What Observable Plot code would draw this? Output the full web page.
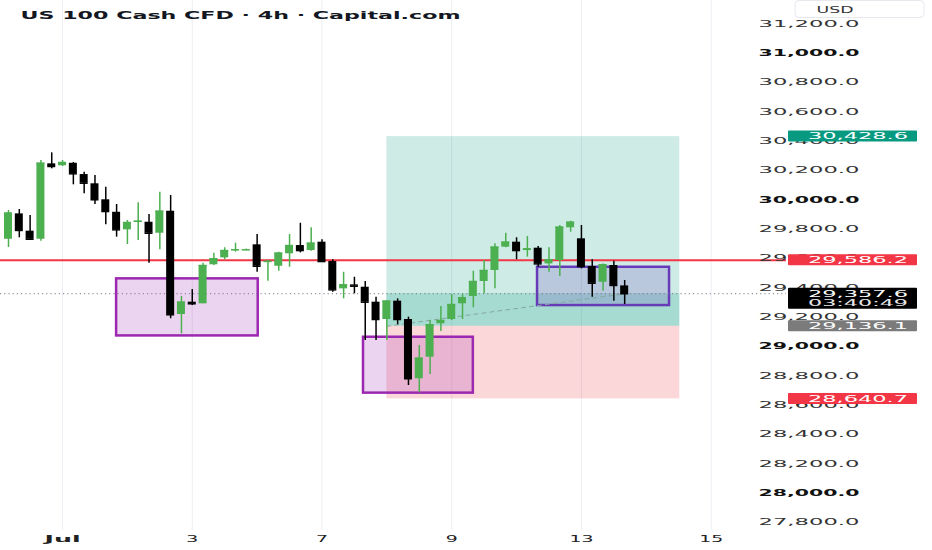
<!DOCTYPE html>
<html><head><meta charset="utf-8">
<script src="https://cdn.jsdelivr.net/npm/d3@7"></script>
<script src="https://cdn.jsdelivr.net/npm/@observablehq/plot@0.6"></script>
<style>
html,body{margin:0;padding:0;background:#fff;}
#chart{width:932px;height:550px;overflow:hidden;}
</style></head><body><div id="chart"></div>
<script>
// ---- data ----
const chartTitle = "US 100 Cash CFD · 4h · Capital.com";
const currency = "USD";
const opens  = [29729,29902,29784,29729,30243,30230,30247,30170,30107,29998,29913,29793,29843,29845,29770,29920,29216,29300,29289,29555,29602,29652,29655,29691,29573,29545,29630,29686,29652,29709,29577,29391,29418,29402,29300,29182,29307,29182,28778,28925,29153,29182,29289,29339,29441,29516,29675,29709,29652,29668,29561,29584,29807,29732,29543,29436,29550,29411];
const highs  = [29925,29932,29891,30266,30318,30266,30252,30186,30164,30084,29966,29857,29977,29898,30050,30027,29339,29386,29566,29634,29671,29702,29662,29761,29584,29641,29761,29838,29807,29725,29589,29504,29470,29441,29334,29311,29323,29198,29005,29175,29271,29352,29352,29511,29584,29698,29770,29739,29748,29680,29671,29823,29852,29823,29589,29561,29579,29448];
const lows   = [29673,29739,29720,29716,30209,30225,30100,30039,29966,29828,29743,29693,29720,29566,29657,29187,29084,29277,29289,29550,29589,29641,29650,29504,29443,29511,29538,29636,29648,29573,29368,29323,29357,29039,29039,29039,29146,28732,28682,28807,29100,29175,29182,29262,29357,29391,29671,29589,29607,29538,29504,29475,29777,29527,29334,29375,29307,29284];
const closes = [29907,29789,29729,30247,30225,30252,30175,30111,29998,29918,29793,29843,29852,29770,29920,29214,29300,29289,29550,29596,29652,29657,29657,29545,29578,29634,29686,29652,29702,29577,29384,29418,29409,29300,29182,29307,29182,28778,28918,29146,29175,29284,29330,29441,29516,29675,29709,29652,29663,29561,29589,29811,29845,29543,29429,29555,29414,29357.6];

const dayTickBars   = [5, 17, 29, 41, 53, 65];
const dayTickLabels = ["Jul", "3", "7", "9", "13", "15"];
const priceTicks = [31200,31000,30800,30600,30400,30200,30000,29800,29600,29400,29200,29000,28800,28600,28400,28200,28000,27800];

const resistanceLevel = 29586.2;
const lastPrice = 29357.6;
const lastBar = 57;
const countdown = "03:40:49";

// long position tool
const entryPrice = 29136.1, targetPrice = 30428.6, stopPrice = 28640.7;
const positionStartBar = 35, positionEndBar = 62.1;

// order-block rectangles
const boxStartBar = [10, 32.84, 48.94];
const boxEndBar   = [23.1, 43, 61.15];
const boxTop      = [29459, 29061, 29538];
const boxBottom   = [29070, 28680, 29277];
const boxColor    = ["#9c27b0", "#9c27b0", "#673ab7"];

// ---- tables built from the arrays ----
const candles = opens.map((o, i) => ({i, open: o, high: highs[i], low: lows[i], close: closes[i]}));
const isUp = d => d.close >= d.open;
const candleColor = d => isUp(d) ? "#4caf50" : "#000000";
const boxes = boxStartBar.map((s, k) => ({x1: s, x2: boxEndBar[k], y1: boxBottom[k], y2: boxTop[k], c: boxColor[k]}));
const zones = [
  {x1: positionStartBar, x2: positionEndBar, y1: entryPrice, y2: targetPrice, c: "#089981"},
  {x1: positionStartBar, x2: positionEndBar, y1: stopPrice, y2: entryPrice, c: "#f23645"},
  {x1: positionStartBar, x2: positionEndBar, y1: entryPrice, y2: lastPrice, c: "#089981"}
];
const pnlLine = [{x: positionStartBar, y: entryPrice}, {x: lastBar, y: lastPrice}];
const fmt = d3.format(",.1f");
const FONT = "DejaVu Sans, Verdana, sans-serif";

const plot = Plot.plot({
  width: 932, height: 550,
  marginLeft: 0, marginRight: 146, marginTop: 0, marginBottom: 20,
  x: {type: "linear", domain: [-0.74, 71.97], axis: null},
  y: {type: "linear", domain: [27743.6, 31356.5], axis: null},
  color: {type: "identity"},
  style: {fontFamily: FONT, background: "#fff", overflow: "visible"},
  marks: [
    Plot.ruleX(dayTickBars, {x: d => d, stroke: "#eceef3", strokeWidth: 1}),
    Plot.rect(zones, {x1: "x1", x2: "x2", y1: "y1", y2: "y2", fill: "c", fillOpacity: 0.2}),
    Plot.rect(boxes, {x1: "x1", x2: "x2", y1: "y1", y2: "y2", fill: "c", fillOpacity: 0.2, stroke: "c", strokeWidth: 2.5}),
    Plot.line(pnlLine, {x: "x", y: "y", stroke: "#86a8a1", strokeWidth: 1, strokeDasharray: "4,4"}),
    Plot.ruleY([lastPrice], {y: d => d, stroke: "#787b86", strokeWidth: 1, strokeDasharray: "1.2,3"}),
    Plot.ruleY([resistanceLevel], {y: d => d, stroke: "#f23645", strokeWidth: 2}),
    Plot.ruleX(candles, {x: "i", y1: "low", y2: "high", stroke: candleColor, strokeWidth: 1.5}),
    Plot.rect(candles, {x1: d => d.i - 0.37, x2: d => d.i + 0.37, y1: d => Math.min(d.open, d.close), y2: d => Math.max(d.open, d.close), fill: candleColor}),
    Plot.ruleY(candles, {y: "close", x1: d => d.i - 0.37, x2: d => d.i + 0.37, stroke: candleColor, strokeWidth: 1.5}),
    Plot.text(priceTicks.filter(d => d % 1000 !== 0), {y: d => d, frameAnchor: "right", dx: 73, text: d => fmt(d), fontSize: 9.5, fill: "#333", className: "pricetick"}),
    Plot.text(priceTicks.filter(d => d % 1000 === 0), {y: d => d, frameAnchor: "right", dx: 73, text: d => fmt(d), fontSize: 9.5, fontWeight: "bold", fill: "#111", className: "pricetick"}),
    Plot.text(dayTickBars, {x: d => d, frameAnchor: "bottom", dy: 11, text: (d, i) => dayTickLabels[i], fontSize: 9, fill: "#222", className: "daytick"}),
    Plot.text([chartTitle], {frameAnchor: "top-left", dx: 20, dy: 11, textAnchor: "start", fontSize: 11, fontWeight: "bold", fill: "#131722", className: "charttitle"})
  ]
});

document.getElementById("chart").appendChild(plot);
const svgSel = d3.select(plot);
const yScale = plot.scale("y");

// stretch texts (the reference is horizontally stretched)
svgSel.selectAll("g.pricetick text").attr("textLength", 101).attr("lengthAdjust", "spacingAndGlyphs");
svgSel.selectAll("g.charttitle text").attr("textLength", 440).attr("lengthAdjust", "spacingAndGlyphs");
svgSel.selectAll("g.daytick text").each(function() {
  const t = d3.select(this);
  const n = t.text().length;
  t.attr("textLength", n * 12).attr("lengthAdjust", "spacingAndGlyphs");
  if (t.text() === "Jul") t.attr("font-weight", "bold");
});

// currency box
const curG = svgSel.append("g");
curG.append("rect").attr("x", 795).attr("y", 0.5).attr("width", 129).attr("height", 17)
  .attr("rx", 4).attr("fill", "#fff").attr("stroke", "#e6e8ee");
curG.append("text").attr("x", 835).attr("y", 10).attr("dy", "0.32em").attr("text-anchor", "middle")
  .attr("font-size", 9.5).attr("fill", "#333").attr("textLength", 37).attr("lengthAdjust", "spacingAndGlyphs")
  .text(currency);

// price label badges on the scale
const badges = [
  {v: targetPrice, bg: "#089981"},
  {v: resistanceLevel, bg: "#f23645"},
  {v: lastPrice, bg: "#000000", sub: countdown},
  {v: entryPrice, bg: "#7b7b7b"},
  {v: stopPrice, bg: "#f23645"}
];
const badgeG = svgSel.append("g");
for (const b of badges) {
  const y = yScale.apply(b.v);
  const h = b.sub ? 21 : 11;
  badgeG.append("rect").attr("x", 788).attr("y", y - 5.5).attr("width", 129).attr("height", h).attr("rx", 1).attr("fill", b.bg);
  badgeG.append("text").attr("x", 858).attr("y", y).attr("dy", "0.35em").attr("text-anchor", "middle")
    .attr("font-size", 9.5).attr("fill", "#fff").attr("textLength", 100).attr("lengthAdjust", "spacingAndGlyphs")
    .text(fmt(b.v));
  if (b.sub) {
    badgeG.append("text").attr("x", 858).attr("y", y + 9.5).attr("dy", "0.35em").attr("text-anchor", "middle")
      .attr("font-size", 9.5).attr("fill", "#e8e8e8").attr("textLength", 100).attr("lengthAdjust", "spacingAndGlyphs")
      .text(b.sub);
  }
}
</script></body></html>
